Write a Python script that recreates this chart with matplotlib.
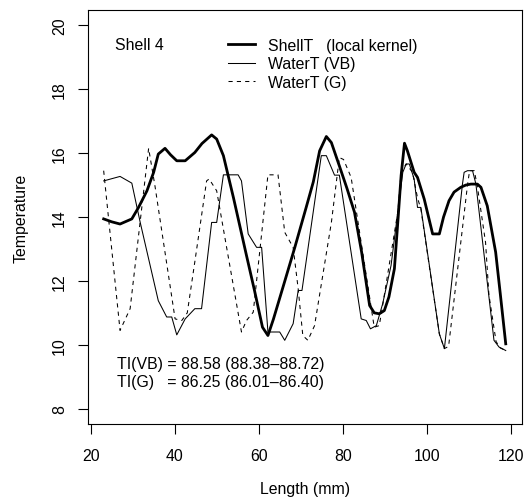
import matplotlib
matplotlib.use("Agg")
import matplotlib.pyplot as plt
from matplotlib.lines import Line2D

plt.rcParams['font.family'] = ['Liberation Sans', 'DejaVu Sans']
plt.rcParams['lines.scale_dashes'] = False

# ShellT (local kernel)
shell_len = [23.1, 25.0, 27.0, 29.8, 31.4, 33.4, 35.0, 36.1, 37.7, 39.0, 40.5, 42.5,
             44.8, 46.5, 48.8, 50.0, 51.6, 54.0, 57.0, 59.0, 60.9, 62.2, 63.5, 66.0,
             68.6, 71.3, 73.0, 74.5, 76.1, 77.3, 79.2, 81.0, 82.8, 84.5, 86.4, 87.5,
             88.7, 89.9, 91.0, 92.3, 93.2, 93.9, 94.7, 95.4, 97.0, 97.8, 99.4, 101.4,
             103.0, 104.0, 105.3, 106.5, 108.1, 109.3, 110.5, 112.05, 112.9, 114.4,
             116.4, 117.5, 118.8]
shell_temp = [13.94, 13.85, 13.78, 13.94, 14.3, 14.82, 15.4, 15.97, 16.15, 15.95, 15.76, 15.76,
              16.02, 16.3, 16.57, 16.44, 15.92, 14.6, 12.85, 11.7, 10.55, 10.29, 10.8, 11.9,
              13.05, 14.3, 15.1, 16.07, 16.52, 16.33, 15.6, 14.9, 14.15, 12.9, 11.23, 11.0,
              10.97, 11.07, 11.5, 12.38, 14.0, 15.3, 16.31, 16.07, 15.4, 15.24, 14.56, 13.47,
              13.47, 14.0, 14.51, 14.78, 14.93, 15.0, 15.03, 15.03, 14.93, 14.35,
              12.9, 11.6, 10.03]

# WaterT (VB)
vb_len = [23.1, 27.0, 29.8, 31.8, 36.1, 38.1, 39.3, 40.5, 42.5, 44.8, 46.4, 47.6,
          48.8, 50.0, 51.6, 55.1, 55.9, 57.5, 59.5, 60.7, 62.2, 63.8, 65.0, 66.2,
          68.2, 69.4, 70.3, 74.9, 76.1, 78.05, 79.2, 84.4, 85.6, 86.6, 88.0, 89.5,
          91.5, 94.3, 95.1, 95.85, 97.0, 97.8, 98.6, 103.0, 104.2, 108.5, 108.9,
          109.7, 110.9, 111.7, 116.0, 117.2, 118.8]
vb_temp = [15.13, 15.27, 15.06, 13.83, 11.38, 10.87, 10.87, 10.31, 10.81, 11.13, 11.13, 12.48,
           13.83, 13.83, 15.32, 15.32, 15.13, 13.47, 13.05, 13.05, 10.4, 10.4, 10.4, 10.14,
           10.66, 11.7, 11.7, 15.92, 15.92, 15.31, 15.31, 10.81, 10.76, 10.5, 10.6, 11.28,
           12.48, 15.4, 15.66, 15.66, 15.19, 14.3, 14.3, 10.34, 9.88, 15.03, 15.4,
           15.45, 15.45, 15.03, 10.14, 9.93, 9.82]

# WaterT (G)
g_len = [23.1, 27.0, 29.4, 33.8, 35.3, 40.1, 41.7, 43.0, 44.8, 47.6, 48.2, 50.0,
         55.9, 57.1, 58.7, 62.2, 64.6, 66.2, 68.2, 69.4, 70.5, 71.7, 73.3, 77.3,
         79.2, 80.2, 82.0, 87.5, 88.7, 89.5, 93.1, 93.9, 95.1, 96.6, 97.8, 98.6,
         103.0, 104.2, 105.2, 109.7, 110.2, 111.3, 112.0, 114.0, 114.8, 116.5,
         117.5, 118.8]
g_temp = [15.45, 10.45, 11.13, 16.15, 14.98, 10.81, 10.76, 11.0, 12.6, 15.13, 15.19, 14.82,
          10.4, 10.76, 11.02, 15.32, 15.32, 13.52, 13.05, 11.75, 10.29, 10.14, 10.6, 13.83,
          15.86, 15.8, 15.24, 10.55, 10.6, 11.23, 14.15, 15.4, 15.66, 15.4, 14.6, 14.25,
          10.34, 9.88, 9.95, 15.0, 15.45, 15.45, 15.0, 13.2, 11.56, 10.1,
          9.9, 9.82]

x_ticks = [20, 40, 60, 80, 100, 120]
y_ticks = [8, 10, 12, 14, 16, 18, 20]

FS = 11.4

fig = plt.figure(figsize=(5.31, 5.02), dpi=100)
ax = fig.add_axes([87.7 / 531, 1 - 425 / 502, (521.7 - 87.7) / 531, (425 - 11) / 502])

ax.plot(shell_len, shell_temp, color='black', lw=2.0, solid_joinstyle='round')
ax.plot(vb_len, vb_temp, color='black', lw=0.75)
ax.plot(g_len, g_temp, color='black', lw=0.75, linestyle=(0, (3, 3)))

ax.set_xlim(19.3, 122.6)
ax.set_ylim(7.52, 20.48)
ax.set_xticks(x_ticks)
ax.set_yticks(y_ticks)
ax.set_yticklabels([str(v) for v in y_ticks], rotation=90, va='center')
ax.tick_params(axis='both', length=7, width=0.8, labelsize=FS, color='black')
ax.tick_params(axis='x', pad=10)
ax.tick_params(axis='y', pad=8)
for s in ax.spines.values():
    s.set_linewidth(0.8)

ax.set_xlabel('Length (mm)', fontsize=FS, labelpad=13)
ax.set_ylabel('Temperature', fontsize=FS, labelpad=17)

ax.text(25.9, 19.41, 'Shell 4', fontsize=FS, va='center', ha='left')

handles = [Line2D([], [], color='black', lw=2.0),
           Line2D([], [], color='black', lw=0.75),
           Line2D([], [], color='black', lw=0.75, linestyle=(0, (3, 3)))]
labels = ['ShellT   (local kernel)', 'WaterT (VB)', 'WaterT (G)']
ax.legend(handles, labels, loc='upper left', bbox_to_anchor=(0.3233, 0.933),
          frameon=False, fontsize=FS, handlelength=1.72, handletextpad=0.8,
          labelspacing=0.22, borderpad=0, borderaxespad=0)

ax.text(26.3, 9.41, 'TI(VB) = 88.58 (88.38\u201388.72)', fontsize=FS, va='center', ha='left')
ax.text(26.3, 8.85, 'TI(G)   = 86.25 (86.01\u201386.40)', fontsize=FS, va='center', ha='left')

fig.savefig('out.png', dpi=100)
